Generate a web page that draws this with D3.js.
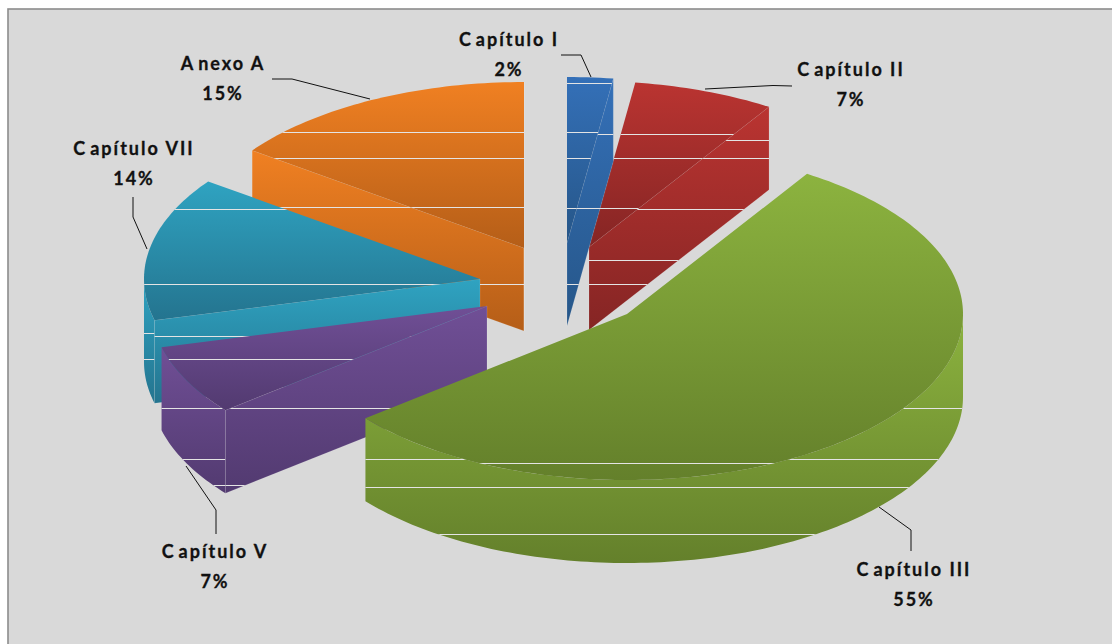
<!DOCTYPE html>
<html>
<head>
<meta charset="utf-8">
<title>Capítulos</title>
<script src="https://cdn.jsdelivr.net/npm/d3@7"></script>
<style>
    html, body { margin: 0; padding: 0; background: #fff; overflow: hidden; }
    svg { display: block; }
    text { font-family: Lato, "Noto Sans", sans-serif; font-weight: 700; font-size: 18px; fill: #111; stroke: #111; stroke-width: 0.3px; letter-spacing: 2px; text-anchor: middle; }
</style>
</head>
<body>
<div id="chart"></div>
<script>
const categories = ["Capítulo I", "Capítulo II", "Capítulo III", "Capítulo V", "Capítulo VII", "Anexo A"];
const shares = [2.2, 6.8, 55.2, 6.8, 14, 15];
const topColors = ["#3470b8", "#ba3431", "#8cb33f", "#704f96", "#2fa3c1", "#f08022"];
const bottomColors = ["#265688", "#852524", "#64802b", "#523a70", "#24748f", "#b55e18"];

const width = 1112, height = 644;
const rx = 336, ry = 166, depth = 83;

// where each exploded slice ended up, and the label + leader for it
const centers = [[567, 243], [589, 247], [627, 314], [487, 306], [480, 279], [524, 248]];
const labels = [[509, 46], [851, 76], [914, 576], [215, 558], [134, 155], [223, 70]];
const leaders = [
    [[561, 55], [581, 55], [591, 77]],
    [[792, 86], [773, 85.5], [705, 89]],
    [[911, 551], [911, 530], [879, 507]],
    [[216, 534], [216, 510], [186, 466]],
    [[133, 197], [133, 217], [147, 249]],
    [[272, 79], [292, 79], [370, 99]]
];
// back to front
const drawOrder = [5, 1, 0, 4, 3, 2];

// the pale horizontal streaks that run across the faces
const streaks = [
    { top: [83, 132, 158, 208, 284], cut: [134, 208, 284], wall: [] },
    { top: [134, 158, 208], cut: [140, 158, 209, 260, 284], wall: [] },
    { top: [463], cut: [], wall: [408, 459, 487, 534] },
    { top: [359], cut: [408, 485], wall: [408, 459, 485] },
    { top: [209, 284], cut: [336], wall: [333, 359] },
    { top: [132, 158, 207], cut: [207, 284], wall: [] }
];

const svg = d3.select("#chart").append("svg")
    .attr("width", width)
    .attr("height", height);
const defs = svg.append("defs");

svg.append("rect")
    .attr("x", 8)
    .attr("y", 9)
    .attr("width", width + 20)
    .attr("height", height + 20)
    .attr("fill", "#d9d9d9")
    .attr("stroke", "#8c8c8c")
    .attr("stroke-width", 1.6);

const arcs = d3.pie().sort(null).startAngle(0).endAngle(2 * Math.PI)(shares);
const line = d3.line();

function rim(center, angle, drop = 0) {
    return [center[0] + rx * Math.sin(angle), center[1] - ry * Math.cos(angle) + drop];
}

function rimPoints(center, a0, a1, drop = 0) {
    let n = Math.max(2, Math.ceil(Math.abs(a1 - a0) / 0.02));
    return d3.range(n + 1).map(i => rim(center, a0 + (a1 - a0) * i / n, drop));
}

function drawFace(g, id, points, i, lines, edge) {
    let gradient = defs.append("linearGradient")
        .attr("id", `grad-${id}`)
        .attr("x1", 0).attr("y1", 0)
        .attr("x2", 0).attr("y2", 1);
    gradient.append("stop").attr("offset", "0%").attr("stop-color", topColors[i]);
    gradient.append("stop").attr("offset", "100%").attr("stop-color", bottomColors[i]);

    defs.append("clipPath").attr("id", `clip-${id}`)
        .append("path").attr("d", line(points) + "Z");

    let face = g.append("path")
        .attr("d", line(points) + "Z")
        .attr("fill", `url(#grad-${id})`);
    if (edge) face.attr("stroke", "rgba(255,255,255,0.18)").attr("stroke-width", 0.7);

    g.append("g").attr("clip-path", `url(#clip-${id})`)
        .selectAll("line").data(lines).join("line")
        .attr("x1", 0).attr("x2", width)
        .attr("y1", d => d + 0.5).attr("y2", d => d + 0.5)
        .attr("stroke", "#e4e4e4")
        .attr("stroke-width", 1);
}

for (let i of drawOrder) {
    let arc = arcs[i];
    let c = centers[i];
    let [a0, a1] = [arc.startAngle, arc.endAngle];
    let g = svg.append("g");

    // outer wall, only the part that turns towards the viewer
    let w0 = Math.max(a0, Math.PI / 2), w1 = Math.min(a1, 3 * Math.PI / 2);
    if (w1 > w0) {
        let wall = rimPoints(c, w0, w1).concat(rimPoints(c, w1, w0, depth));
        drawFace(g, `wall-${i}`, wall, i, streaks[i].wall, false);
    }

    // cut faces
    let cuts = [];
    if (Math.sin(a0) < 0) cuts.push(a0);
    if (Math.sin(a1) > 0) cuts.push(a1);
    cuts.forEach((a, k) => {
        let p = rim(c, a);
        let cut = [c, p, [p[0], p[1] + depth], [c[0], c[1] + depth]];
        drawFace(g, `cut-${i}-${k}`, cut, i, streaks[i].cut, true);
    });

    // top of the slice
    let top = [c].concat(rimPoints(c, a0, a1));
    drawFace(g, `top-${i}`, top, i, streaks[i].top, false);
}

svg.append("g").selectAll("path").data(leaders).join("path")
    .attr("d", d => line(d))
    .attr("fill", "none")
    .attr("stroke", "#111")
    .attr("stroke-width", 1);

const percent = d3.format(".0f");
const label = svg.append("g").selectAll("g").data(categories).join("g")
    .attr("transform", (d, i) => `translate(${labels[i][0]},${labels[i][1]})`);
// the first letter sits apart from the rest in the original
let name = label.append("text");
name.append("tspan").style("letter-spacing", "5px").text(d => d[0]);
name.append("tspan").text(d => d.slice(1));
label.append("text").attr("y", 30).text((d, i) => percent(shares[i]) + "%");
</script>
</body>
</html>
